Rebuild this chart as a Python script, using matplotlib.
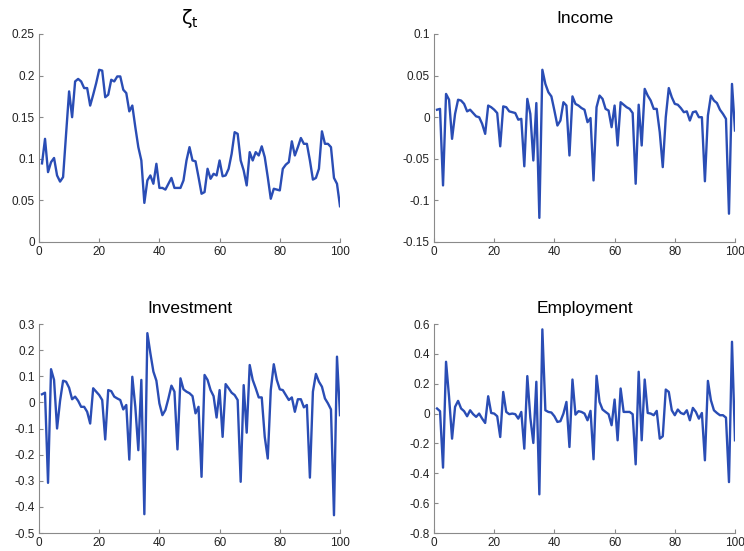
import matplotlib
matplotlib.use("Agg")
import matplotlib.pyplot as plt
from matplotlib.ticker import FuncFormatter
import numpy as np

periods = list(range(1, 101))

zeta = [0.0945, 0.124, 0.084, 0.096, 0.101, 0.080, 0.0726, 0.078, 0.130, 0.181,
        0.150, 0.193, 0.196, 0.193, 0.185, 0.185, 0.164, 0.177, 0.191, 0.207,
        0.206, 0.174, 0.177, 0.195, 0.193, 0.199, 0.199, 0.183, 0.179, 0.157,
        0.164, 0.138, 0.114, 0.098, 0.047, 0.074, 0.080, 0.070, 0.094, 0.065,
        0.065, 0.063, 0.070, 0.077, 0.065, 0.065, 0.065, 0.074, 0.098, 0.114,
        0.098, 0.097, 0.078, 0.058, 0.060, 0.088, 0.076, 0.082, 0.080, 0.098,
        0.079, 0.080, 0.088, 0.106, 0.132, 0.130, 0.098, 0.086, 0.068, 0.108,
        0.098, 0.108, 0.104, 0.115, 0.102, 0.078, 0.052, 0.064, 0.063, 0.062,
        0.088, 0.093, 0.096, 0.121, 0.104, 0.114, 0.125, 0.118, 0.118, 0.098,
        0.075, 0.077, 0.088, 0.133, 0.118, 0.118, 0.114, 0.077, 0.070, 0.043]

income = [0.009, 0.010, -0.082, 0.028, 0.021, -0.026, 0.004, 0.021, 0.020, 0.016,
          0.007, 0.009, 0.005, 0.001, 0.000, -0.008, -0.020, 0.014, 0.012, 0.009,
          0.005, -0.035, 0.013, 0.012, 0.007, 0.006, 0.005, -0.003, -0.002, -0.059,
          0.022, 0.004, -0.052, 0.017, -0.121, 0.057, 0.040, 0.030, 0.025, 0.008,
          -0.010, -0.004, 0.018, 0.014, -0.046, 0.025, 0.016, 0.014, 0.011, 0.009,
          -0.006, -0.001, -0.076, 0.012, 0.026, 0.022, 0.010, 0.008, -0.012, 0.014,
          -0.034, 0.018, 0.015, 0.012, 0.010, 0.005, -0.080, 0.015, -0.034, 0.034,
          0.026, 0.020, 0.010, 0.010, -0.018, -0.060, 0.000, 0.035, 0.024, 0.016,
          0.015, 0.011, 0.006, 0.007, -0.004, 0.006, 0.007, 0.000, 0.000, -0.077,
          0.002, 0.026, 0.020, 0.017, 0.009, 0.004, -0.002, -0.116, 0.040, -0.016]

investment = [0.031, 0.037, -0.308, 0.127, 0.086, -0.100, 0.006, 0.083, 0.079, 0.056,
              0.012, 0.022, 0.006, -0.017, -0.017, -0.036, -0.081, 0.054, 0.041, 0.028,
              0.009, -0.142, 0.047, 0.043, 0.022, 0.015, 0.009, -0.027, -0.010, -0.219,
              0.098, -0.017, -0.183, 0.086, -0.428, 0.265, 0.188, 0.118, 0.083, -0.004,
              -0.049, -0.029, 0.015, 0.064, 0.041, -0.180, 0.092, 0.050, 0.041, 0.035,
              0.024, -0.042, -0.017, -0.285, 0.105, 0.086, 0.047, 0.024, -0.058, 0.047,
              -0.132, 0.070, 0.054, 0.037, 0.028, 0.009, -0.304, 0.066, -0.116, 0.143,
              0.086, 0.054, 0.019, 0.019, -0.132, -0.215, 0.047, 0.146, 0.086, 0.050,
              0.047, 0.028, 0.009, 0.019, -0.036, 0.012, 0.012, -0.019, -0.010, -0.288,
              0.041, 0.109, 0.079, 0.060, 0.015, -0.004, -0.027, -0.432, 0.175, -0.049]

employment = [0.034, 0.016, -0.362, 0.347, 0.112, -0.168, 0.045, 0.085, 0.034, 0.016,
              -0.018, 0.022, -0.004, -0.022, 0.000, -0.034, -0.063, 0.116, 0.004, 0.000,
              -0.018, -0.157, 0.145, 0.011, -0.004, 0.000, -0.004, -0.034, 0.011, -0.235,
              0.251, -0.027, -0.197, 0.213, -0.541, 0.564, 0.022, 0.011, 0.007, -0.018,
              -0.056, -0.051, 0.000, 0.078, -0.224, 0.228, -0.007, 0.016, 0.011, 0.000,
              -0.045, 0.018, -0.306, 0.253, 0.078, 0.027, 0.011, -0.004, -0.078, 0.094,
              -0.179, 0.168, 0.011, 0.011, 0.011, -0.004, -0.340, 0.280, -0.179, 0.228,
              0.004, 0.000, -0.011, 0.018, -0.168, -0.152, 0.161, 0.145, 0.022, -0.011,
              0.027, 0.004, -0.004, 0.022, -0.045, 0.038, 0.011, -0.034, 0.004, -0.313,
              0.219, 0.089, 0.022, 0.004, -0.011, -0.011, -0.027, -0.459, 0.481, -0.179]

titles = [r"$\mathrm{\zeta_t}$", "Income", "Investment", "Employment"]
series = [zeta, income, investment, employment]
ylims = [(0, 0.25), (-0.15, 0.1), (-0.5, 0.3), (-0.8, 0.6)]
ysteps = [0.05, 0.05, 0.1, 0.2]
xticks = [0, 20, 40, 60, 80, 100]

plt.rcParams['font.family'] = ['Liberation Sans', 'DejaVu Sans']
plt.rcParams['mathtext.fontset'] = 'custom'
plt.rcParams['mathtext.rm'] = 'DejaVu Sans'

fig = plt.figure(figsize=(7.44, 5.51), dpi=100)
W, H = 744, 551
positions = [
    (39, 34, 340, 242),
    (434, 34, 735, 242),
    (39, 324, 340, 533),
    (434, 324, 735, 533),
]
line_color = "#2A4DB5"
axis_color = "#8a8a8a"

def fmt(v, pos):
    s = "%g" % round(v, 4)
    return "0" if s in ("-0", "0") else s

for i in range(4):
    x0, y0, x1, y1 = positions[i]
    ax = fig.add_axes([x0 / W, (H - y1) / H, (x1 - x0) / W, (y1 - y0) / H])
    ax.plot(periods, series[i], color=line_color, linewidth=1.7)
    ax.set_xlim(0, 100)
    ax.set_ylim(*ylims[i])
    ax.set_xticks(xticks)
    lo, hi = ylims[i]
    ax.set_yticks(np.arange(lo, hi + ysteps[i] / 2, ysteps[i]))
    ax.yaxis.set_major_formatter(FuncFormatter(fmt))
    for s in ("top", "right"):
        ax.spines[s].set_visible(False)
    for s in ("left", "bottom"):
        ax.spines[s].set_color(axis_color)
        ax.spines[s].set_linewidth(0.8)
    ax.tick_params(direction="in", length=3, width=0.8, color=axis_color,
                   labelsize=8.5, labelcolor="#222222", pad=3)
    if i == 0:
        ax.set_title(titles[i], fontsize=14, pad=7)
    else:
        ax.set_title(titles[i], fontsize=12.5, pad=8)

fig.savefig("out.png", dpi=100)
